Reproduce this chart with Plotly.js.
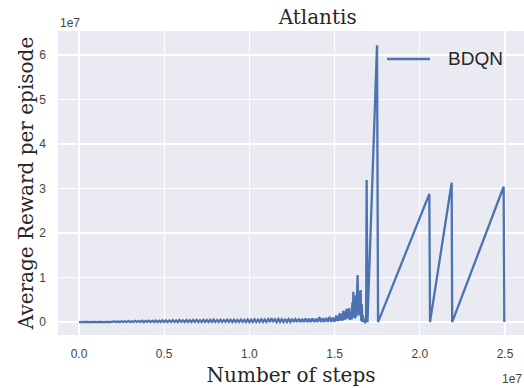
<!DOCTYPE html>
<html>
<head>
<meta charset="utf-8">
<script src="https://cdn.plot.ly/plotly-3.0.1.min.js"></script>
<style>
html,body{margin:0;padding:0;background:#fff;}
#chart{width:524px;height:388px;}
</style>
</head>
<body>
<div id="chart"></div>
<script>
// Training steps
const steps = [
  0, 100000, 200000, 300000, 400000, 500000, 600000, 700000, 800000, 900000,
  1000000, 1100000, 1200000, 1300000, 1400000, 1500000, 1600000, 1700000, 1800000, 1900000,
  2000000, 2100000, 2200000, 2300000, 2400000, 2500000, 2600000, 2700000, 2800000, 2900000,
  3000000, 3100000, 3200000, 3300000, 3400000, 3500000, 3600000, 3700000, 3800000, 3900000,
  4000000, 4100000, 4200000, 4300000, 4400000, 4500000, 4600000, 4700000, 4800000, 4900000,
  5000000, 5100000, 5200000, 5300000, 5400000, 5500000, 5600000, 5700000, 5800000, 5900000,
  6000000, 6100000, 6200000, 6300000, 6400000, 6500000, 6600000, 6700000, 6800000, 6900000,
  7000000, 7100000, 7200000, 7300000, 7400000, 7500000, 7600000, 7700000, 7800000, 7900000,
  8000000, 8100000, 8200000, 8300000, 8400000, 8500000, 8600000, 8700000, 8800000, 8900000,
  9000000, 9100000, 9200000, 9300000, 9400000, 9500000, 9600000, 9700000, 9800000, 9900000,
  10000000, 10100000, 10200000, 10300000, 10400000, 10500000, 10600000, 10700000, 10800000, 10900000,
  11000000, 11100000, 11200000, 11300000, 11400000, 11500000, 11600000, 11700000, 11800000, 11900000,
  12000000, 12100000, 12200000, 12300000, 12400000, 12500000, 12600000, 12700000, 12800000, 12900000,
  13000000, 13100000, 13200000, 13300000, 13400000, 13500000, 13600000, 13700000, 13800000, 13900000,
  14000000, 14100000, 14200000, 14300000, 14400000, 14500000, 14600000, 14700000, 14800000, 14900000,
  15000000, 15050000, 15100000, 15150000, 15200000, 15250000, 15300000, 15350000, 15400000, 15450000,
  15500000, 15550000, 15600000, 15650000, 15700000, 15750000, 15800000, 15860000, 15900000, 15950000,
  16000000, 16030000, 16050000, 16080000, 16100000, 16130000, 16150000, 16170000, 16200000, 16230000,
  16250000, 16280000, 16300000, 16320000, 16350000, 16380000, 16400000, 16420000, 16440000, 16460000,
  16500000, 16530000, 16560000, 16600000, 16630000, 16660000, 16700000, 16750000, 16800000, 16850000,
  16880000, 16930000, 17490000, 17550000, 20560000, 20600000, 21870000, 21900000, 24920000, 24960000
];
// BDQN average reward per episode
const bdqnReward = [
  5000, 40000, 8000, 50000, 10000, 35000, 6000, 60000, 12000, 45000,
  8000, 70000, 10000, 55000, 9000, 80000, 12000, 60000, 10000, 90000,
  15000, 150000, 20000, 120000, 15000, 200000, 25000, 180000, 20000, 250000,
  30000, 210000, 20000, 280000, 25000, 240000, 30000, 300000, 20000, 260000,
  30000, 320000, 25000, 290000, 30000, 350000, 20000, 310000, 30000, 380000,
  25000, 400000, 30000, 360000, 25000, 420000, 30000, 390000, 20000, 450000,
  30000, 410000, 25000, 480000, 30000, 430000, 20000, 460000, 35000, 500000,
  25000, 440000, 30000, 520000, 20000, 470000, 30000, 490000, 25000, 540000,
  30000, 450000, 20000, 510000, 30000, 480000, 25000, 560000, 30000, 500000,
  20000, 530000, 35000, 470000, 25000, 550000, 30000, 520000, 20000, 580000,
  30000, 540000, 25000, 600000, 30000, 560000, 20000, 620000, 35000, 580000,
  30000, 650000, 25000, 900000, 30000, 600000, 20000, 680000, 35000, 620000,
  30000, 700000, 25000, 640000, 30000, 720000, 20000, 660000, 35000, 750000,
  30000, 700000, 25000, 780000, 30000, 720000, 40000, 820000, 30000, 760000,
  40000, 1100000, 35000, 850000, 40000, 950000, 45000, 1200000, 50000, 1000000,
  60000, 900000, 1500000, 200000, 1300000, 300000, 2000000, 400000, 1800000, 300000,
  2500000, 500000, 2400000, 600000, 3000000, 800000, 2600000, 3100000, 500000, 2200000,
  600000, 3500000, 4500000, 1000000, 6800000, 1500000, 4000000, 5000000, 800000, 3500000,
  6000000, 1200000, 4800000, 1500000, 10600000, 2000000, 5500000, 7000000, 1500000, 5000000,
  2500000, 7200000, 300000, 4000000, 0, 1500000, 0, 600000, 0, 200000,
  31900000, 0, 62200000, 0, 28800000, 0, 31300000, 0, 30400000, 0
];
const seriesName = "BDQN";
const xTickVals = [0, 5000000, 10000000, 15000000, 20000000, 25000000];
const xTickText = ["0.0", "0.5", "1.0", "1.5", "2.0", "2.5"];
const yTickVals = [0, 10000000, 20000000, 30000000, 40000000, 50000000, 60000000];
const yTickText = ["0", "1", "2", "3", "4", "5", "6"];
const offsetLabel = "1e7";

const serif = "DejaVu Serif, serif";
const sans = "Liberation Sans, Arial, sans-serif";
const lineColor = "#4C72B0";
const tickColor = "#444444";

const trace = {
  x: steps,
  y: bdqnReward,
  type: "scatter",
  mode: "lines",
  name: seriesName,
  showlegend: false,
  line: {color: lineColor, width: 2.3}
};

const layout = {
  width: 524,
  height: 388,
  margin: {l: 58, r: 0, t: 31, b: 53},
  paper_bgcolor: "#ffffff",
  plot_bgcolor: "#EAEAF2",
  title: {
    text: "Atlantis",
    font: {family: serif, size: 20, color: "#262626"},
    x: 292/524, xanchor: "center", xref: "paper",
    y: 1 - 17/388, yanchor: "middle", yref: "container"
  },
  xaxis: {
    range: [-1232000, 26115000],
    tickvals: xTickVals,
    ticktext: xTickText,
    showgrid: true, gridcolor: "#ffffff", gridwidth: 1.2,
    zeroline: false, showline: false, ticks: "",
    ticklabelstandoff: 10,
    tickfont: {family: sans, size: 12, color: tickColor},
    title: {text: "Number of steps", font: {family: serif, size: 20, color: "#262626"}, standoff: 7}
  },
  yaxis: {
    range: [-2900000, 65400000],
    tickvals: yTickVals,
    ticktext: yTickText,
    showgrid: true, gridcolor: "#ffffff", gridwidth: 1.2,
    zeroline: false, showline: false, ticks: "",
    ticklabelstandoff: 11,
    tickfont: {family: sans, size: 12, color: tickColor},
    title: {text: "Average Reward per episode", font: {family: serif, size: 20, color: "#262626"}, standoff: 0}
  },
  showlegend: false,
  shapes: [
    {type: "line", xref: "paper", yref: "paper",
     x0: (387-58)/466, x1: (430-58)/466, y0: (335-59)/304, y1: (335-59)/304,
     line: {color: lineColor, width: 2.3}}
  ],
  annotations: [
    {text: seriesName, xref: "paper", yref: "paper", x: (446-58)/466, y: (335-59)/304,
     xanchor: "left", yanchor: "middle", showarrow: false,
     font: {family: sans, size: 19, color: "#262626"}},
    {text: offsetLabel, xref: "paper", yref: "paper", x: 0, y: 1, xanchor: "left", yanchor: "bottom",
     showarrow: false, font: {family: sans, size: 12, color: tickColor}, yshift: -1},
    {text: offsetLabel, xref: "paper", yref: "paper", x: (524-58)/466, y: 0, xanchor: "right", yanchor: "top",
     showarrow: false, font: {family: sans, size: 12, color: tickColor}, yshift: -35}
  ]
};

Plotly.newPlot("chart", [trace], layout, {displayModeBar: false, staticPlot: true});
</script>
</body>
</html>
